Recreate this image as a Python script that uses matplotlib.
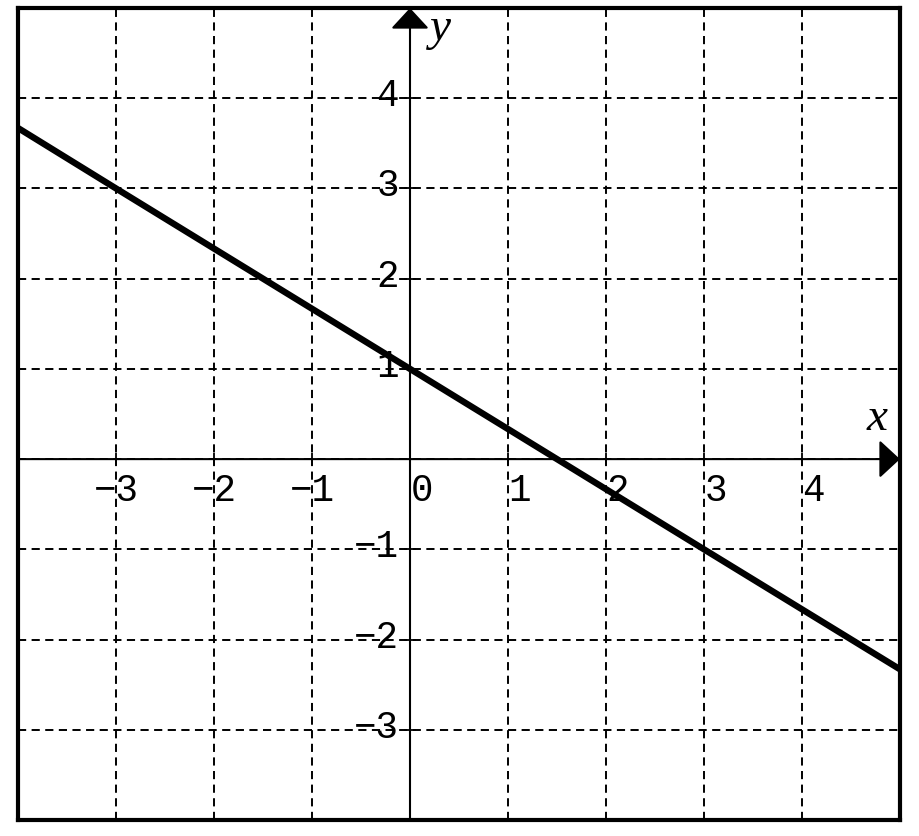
import matplotlib

matplotlib.use("Agg")
import matplotlib.pyplot as plt
import matplotlib.transforms as mtransforms

# axis window
x_range = [-4, 5]
y_range = [-4, 5]

# grid / tick labels
x_ticks = [-3, -2, -1, 0, 1, 2, 3, 4]
x_labels = ["−3", "−2", "−1", "0", "1", "2", "3", "4"]
y_ticks = [-3, -2, -1, 1, 2, 3, 4]
y_labels = ["−3", "−2", "−1", "1", "2", "3", "4"]

# the line, read at the edges of the window
line_x = [-4.0, -3.0, 0.0, 3.0, 5.0]
line_y = [3.67, 3.0, 1.0, -1.0, -2.33]

FONT = "Liberation Mono"
NAME_FONT = "Liberation Serif"

fig = plt.figure(figsize=(9.19, 8.36), dpi=100)
ax = fig.add_axes([18 / 919, 16 / 836, 882 / 919, 812 / 836])
ax.set_xlim(*x_range)
ax.set_ylim(*y_range)

# dashed grid
ax.set_xticks(x_ticks)
ax.set_yticks(y_ticks + [0])
ax.tick_params(length=0, labelbottom=False, labelleft=False)
ax.grid(True, color="black", linewidth=1.4, linestyle=(0, (4.2, 2.8)))
ax.set_axisbelow(True)

for sp in ax.spines.values():
    sp.set_linewidth(3.0)
    sp.set_color("black")

# axes with arrow heads
arrow = dict(arrowstyle="-|>,head_length=1.3,head_width=1.2", color="black",
             lw=1.5, mutation_scale=10, shrinkA=0, shrinkB=0)
ax.annotate("", xy=(x_range[1], 0), xytext=(x_range[0], 0), arrowprops=arrow)
ax.annotate("", xy=(0, y_range[1]), xytext=(0, y_range[0]), arrowprops=arrow)

# little tick marks on the axes
ax.plot(x_ticks, [0] * len(x_ticks), ls="none", marker="|", ms=8, mew=1.3, color="black")
ax.plot([0] * len(y_ticks), y_ticks, ls="none", marker="_", ms=8, mew=1.3, color="black")

# the graph
ax.plot(line_x, line_y, color="black", linewidth=4.6, solid_capstyle="butt", zorder=5)

# tick labels
xl_tr = mtransforms.offset_copy(ax.transData, fig=fig, x=23, y=-32, units="dots")
for v, lab in zip(x_ticks, x_labels):
    ax.text(v, 0, lab, transform=xl_tr, ha="right", va="center",
            family=FONT, fontsize=27)

yl_tr = mtransforms.offset_copy(ax.transData, fig=fig, x=-11, y=2, units="dots")
for v, lab in zip(y_ticks, y_labels):
    ax.text(0, v, lab, transform=yl_tr, ha="right", va="center",
            family=FONT, fontsize=27, zorder=6)

# axis names
ax.text(4.765, 0.32, "x", ha="center", va="baseline", family=NAME_FONT,
        style="italic", fontsize=34)
ax.text(0.31, 4.64, "y", ha="center", va="baseline", family=NAME_FONT,
        style="italic", fontsize=34)

fig.savefig("out.png", dpi=100)
